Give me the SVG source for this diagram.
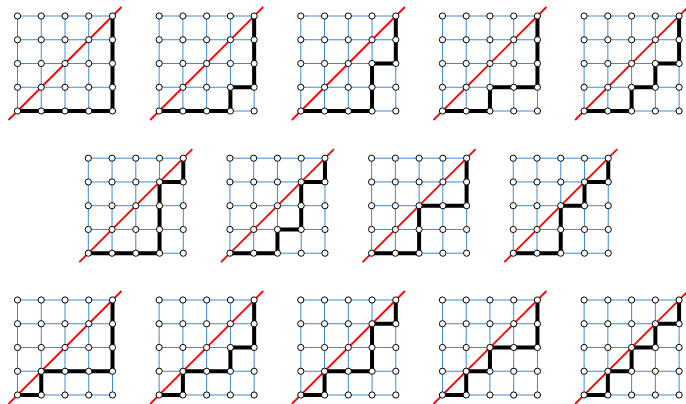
<svg xmlns="http://www.w3.org/2000/svg" xmlns:xlink="http://www.w3.org/1999/xlink" width="686" height="404" viewBox="0 0 686 404">
<style>
.grid{fill:none;stroke:#3d8ad6;stroke-width:1}
.diag{stroke:#ff0000;stroke-width:1.8;fill:none}
.dyck{fill:none;stroke:#000;stroke-width:4;stroke-linejoin:miter;stroke-linecap:butt}
.node{fill:#fff;stroke:#000;stroke-width:1}
</style>
<defs>
<g id="lattice">
<path class="grid" d="M0 0h95M0 23.75h95M0 47.5h95M0 71.25h95M0 95h95M0 0v95M23.75 0v95M47.5 0v95M71.25 0v95M95 0v95"/>
<path class="diag" d="M-9 104L104 -9"/>
</g>
<g id="nodes">
<circle class="node" cx="0" cy="0" r="3.1"/><circle class="node" cx="23.75" cy="0" r="3.1"/><circle class="node" cx="47.5" cy="0" r="3.1"/><circle class="node" cx="71.25" cy="0" r="3.1"/><circle class="node" cx="95" cy="0" r="3.1"/>
<circle class="node" cx="0" cy="23.75" r="3.1"/><circle class="node" cx="23.75" cy="23.75" r="3.1"/><circle class="node" cx="47.5" cy="23.75" r="3.1"/><circle class="node" cx="71.25" cy="23.75" r="3.1"/><circle class="node" cx="95" cy="23.75" r="3.1"/>
<circle class="node" cx="0" cy="47.5" r="3.1"/><circle class="node" cx="23.75" cy="47.5" r="3.1"/><circle class="node" cx="47.5" cy="47.5" r="3.1"/><circle class="node" cx="71.25" cy="47.5" r="3.1"/><circle class="node" cx="95" cy="47.5" r="3.1"/>
<circle class="node" cx="0" cy="71.25" r="3.1"/><circle class="node" cx="23.75" cy="71.25" r="3.1"/><circle class="node" cx="47.5" cy="71.25" r="3.1"/><circle class="node" cx="71.25" cy="71.25" r="3.1"/><circle class="node" cx="95" cy="71.25" r="3.1"/>
<circle class="node" cx="0" cy="95" r="3.1"/><circle class="node" cx="23.75" cy="95" r="3.1"/><circle class="node" cx="47.5" cy="95" r="3.1"/><circle class="node" cx="71.25" cy="95" r="3.1"/><circle class="node" cx="95" cy="95" r="3.1"/>
</g>
</defs>
<g id="panel1" transform="translate(17.5,16)"><use href="#lattice" xlink:href="#lattice"/><path class="dyck" d="M0 95h95v-95"/><use href="#nodes" xlink:href="#nodes"/></g>
<g id="panel2" transform="translate(159.15,16)"><use href="#lattice" xlink:href="#lattice"/><path class="dyck" d="M0 95h71.25v-23.75h23.75v-71.25"/><use href="#nodes" xlink:href="#nodes"/></g>
<g id="panel3" transform="translate(300.8,16)"><use href="#lattice" xlink:href="#lattice"/><path class="dyck" d="M0 95h71.25v-47.5h23.75v-47.5"/><use href="#nodes" xlink:href="#nodes"/></g>
<g id="panel4" transform="translate(442.45,16)"><use href="#lattice" xlink:href="#lattice"/><path class="dyck" d="M0 95h47.5v-23.75h47.5v-71.25"/><use href="#nodes" xlink:href="#nodes"/></g>
<g id="panel5" transform="translate(584.1,16)"><use href="#lattice" xlink:href="#lattice"/><path class="dyck" d="M0 95h47.5v-23.75h23.75v-23.75h23.75v-47.5"/><use href="#nodes" xlink:href="#nodes"/></g>
<g id="panel6" transform="translate(88.3,158.2)"><use href="#lattice" xlink:href="#lattice"/><path class="dyck" d="M0 95h71.25v-71.25h23.75v-23.75"/><use href="#nodes" xlink:href="#nodes"/></g>
<g id="panel7" transform="translate(229.95,158.2)"><use href="#lattice" xlink:href="#lattice"/><path class="dyck" d="M0 95h47.5v-23.75h23.75v-47.5h23.75v-23.75"/><use href="#nodes" xlink:href="#nodes"/></g>
<g id="panel8" transform="translate(371.6,158.2)"><use href="#lattice" xlink:href="#lattice"/><path class="dyck" d="M0 95h47.5v-47.5h47.5v-47.5"/><use href="#nodes" xlink:href="#nodes"/></g>
<g id="panel9" transform="translate(513.25,158.2)"><use href="#lattice" xlink:href="#lattice"/><path class="dyck" d="M0 95h47.5v-47.5h23.75v-23.75h23.75v-23.75"/><use href="#nodes" xlink:href="#nodes"/></g>
<g id="panel10" transform="translate(17.5,300)"><use href="#lattice" xlink:href="#lattice"/><path class="dyck" d="M0 95h23.75v-23.75h71.25v-71.25"/><use href="#nodes" xlink:href="#nodes"/></g>
<g id="panel11" transform="translate(159.15,300)"><use href="#lattice" xlink:href="#lattice"/><path class="dyck" d="M0 95h23.75v-23.75h47.5v-23.75h23.75v-47.5"/><use href="#nodes" xlink:href="#nodes"/></g>
<g id="panel12" transform="translate(300.8,300)"><use href="#lattice" xlink:href="#lattice"/><path class="dyck" d="M0 95h23.75v-23.75h47.5v-47.5h23.75v-23.75"/><use href="#nodes" xlink:href="#nodes"/></g>
<g id="panel13" transform="translate(442.45,300)"><use href="#lattice" xlink:href="#lattice"/><path class="dyck" d="M0 95h23.75v-23.75h23.75v-23.75h47.5v-47.5"/><use href="#nodes" xlink:href="#nodes"/></g>
<g id="panel14" transform="translate(584.1,300)"><use href="#lattice" xlink:href="#lattice"/><path class="dyck" d="M0 95h23.75v-23.75h23.75v-23.75h23.75v-23.75h23.75v-23.75"/><use href="#nodes" xlink:href="#nodes"/></g>
</svg>
